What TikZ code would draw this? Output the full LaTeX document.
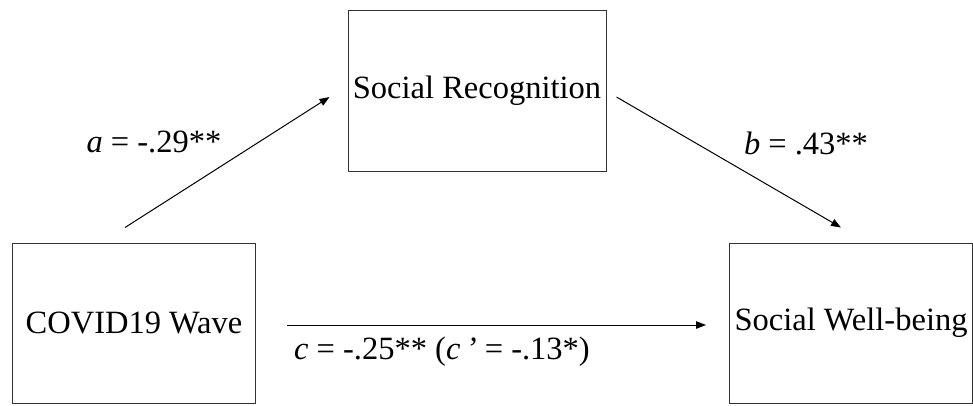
\documentclass[tikz,border=0pt]{standalone}
\usepackage{fontspec}
\setmainfont{Liberation Serif}
\usetikzlibrary{arrows.meta, positioning, calc}

\begin{document}
\begin{tikzpicture}[
  x=1pt, y=-1pt,
  varbox/.style={draw=black!80, line width=1pt, minimum width=243pt, minimum height=160pt, font=\fontsize{32.5}{38}\selectfont, inner sep=0pt},
  coef/.style={font=\fontsize{32.5}{38}\selectfont, inner sep=0pt},
  path/.style={line width=1pt, -{Triangle[length=10pt,width=7.5pt]}}
]
\useasboundingbox (0,0) rectangle (973,405);
\node[varbox, minimum width=258pt, minimum height=161pt] (recog) at (477,90.5) {Social Recognition};
\node[varbox] (wave) at (134,323) {COVID19 Wave};
\node[varbox] (wellbeing) at (851,323) {Social Well-being};

\coordinate (a1) at ($(wave.north)+(-9,-15)$);
\coordinate (a2) at ($(recog.west)+(-18,6.5)$);
\coordinate (b1) at ($(recog.east)+(10,6.5)$);
\coordinate (b2) at ($(wellbeing.north)+(-10,-15)$);
\coordinate (c1) at ($(wave.east)+(31,2)$);
\coordinate (c2) at ($(wellbeing.west)+(-23,2)$);

\draw[path] (a1) -- (a2);
\draw[path] (b1) -- (b2);
\draw[path] (c1) -- (c2);

\node[coef] (alab) at (154,142) {\textit{a} = -.29**};
\node[coef] (blab) at (806,143) {\textit{b} = .43**};
\node[coef] (clab) at (442,352) {\textit{c} = -.25** (\textit{c}\thinspace\textit{’} = -.13*)};
\end{tikzpicture}
\end{document}
